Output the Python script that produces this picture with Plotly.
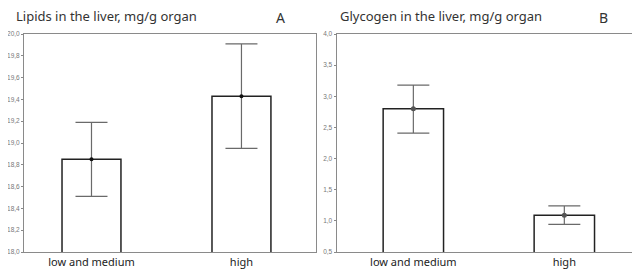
import plotly.graph_objects as go

categories = ["low and medium", "high"]
lipids_mean = [18.85, 19.43]
lipids_err_plus = [0.34, 0.48]
lipids_err_minus = [0.34, 0.48]
glycogen_mean = [2.80, 1.09]
glycogen_err_plus = [0.38, 0.15]
glycogen_err_minus = [0.39, 0.145]
lipid_ticks = [18.0, 18.2, 18.4, 18.6, 18.8, 19.0, 19.2, 19.4, 19.6, 19.8, 20.0]
glyco_ticks = [0.5, 1.0, 1.5, 2.0, 2.5, 3.0, 3.5, 4.0]

# page body has an 8px margin, so the paper is 8px smaller than the window
OFF = 8
W, H = 640 - OFF, 269 - OFF
def px_x(p): return (p - OFF) / W
def px_y(p): return 1 - (p - OFF) / H

fig = go.Figure()

def add_panel(vals, ep, em, xa, ya, mcolor, msize, bw):
    fig.add_trace(go.Bar(
        x=categories, y=vals, xaxis=xa, yaxis=ya, width=bw,
        marker=dict(color="white", line=dict(color="#222", width=1.5)),
        showlegend=False, hoverinfo="skip"))
    fig.add_trace(go.Scatter(
        x=categories, y=vals, xaxis=xa, yaxis=ya, mode="markers",
        marker=dict(color=mcolor, size=msize),
        error_y=dict(type="data", symmetric=False, array=ep, arrayminus=em,
                     color="#6a6a6a", thickness=1.2, width=16),
        showlegend=False))

add_panel(lipids_mean, lipids_err_plus, lipids_err_minus, "x", "y", "#111", 4, 0.393)
add_panel(glycogen_mean, glycogen_err_plus, glycogen_err_minus, "x2", "y2", "#555", 5, 0.40)

tickfont = dict(family="Liberation Sans", size=6.5, color="#777")
catfont = dict(family="Noto Sans", size=11, color="#222")
frame = dict(showline=True, linecolor="#8a8a8a", linewidth=1, mirror=True,
             showgrid=False, zeroline=False)

def fmt(v):
    return f"{v:.1f}".replace(".", ",")

fig.update_layout(
    width=W, height=H, margin=dict(l=0, r=0, t=0, b=0),
    plot_bgcolor="white", paper_bgcolor="white",
    xaxis=dict(domain=[px_x(24), px_x(316)], anchor="y", range=[-0.45, 1.497],
               tickfont=catfont, ticks="", automargin=False, **frame),
    yaxis=dict(domain=[px_y(252), px_y(34)], anchor="x", range=[18.0, 20.0],
               tickvals=lipid_ticks, ticktext=[fmt(v) for v in lipid_ticks],
               tickfont=tickfont, ticks="outside", ticklen=2, tickcolor="#888",
               automargin=False, **frame),
    xaxis2=dict(domain=[px_x(336.5), px_x(636.5)], anchor="y2", range=[-0.509, 1.478],
                tickfont=catfont, ticks="", automargin=False, **frame),
    yaxis2=dict(domain=[px_y(252), px_y(34)], anchor="x2", range=[0.5, 4.0],
                tickvals=glyco_ticks, ticktext=[fmt(v) for v in glyco_ticks],
                tickfont=tickfont, ticks="outside", ticklen=2, tickcolor="#888",
                automargin=False, **frame),
    annotations=[
        dict(text="Lipids in the liver, mg/g organ", x=px_x(14), y=px_y(16), xref="paper", yref="paper",
             xanchor="left", yanchor="middle", showarrow=False,
             font=dict(family="Noto Sans", size=13, color="#333")),
        dict(text="A", x=px_x(280), y=px_y(17.5), xref="paper", yref="paper",
             xanchor="center", yanchor="middle", showarrow=False,
             font=dict(family="Noto Sans", size=14, color="#333")),
        dict(text="Glycogen in the liver, mg/g organ", x=px_x(338), y=px_y(16), xref="paper", yref="paper",
             xanchor="left", yanchor="middle", showarrow=False,
             font=dict(family="Noto Sans", size=13, color="#333")),
        dict(text="B", x=px_x(603), y=px_y(17.5), xref="paper", yref="paper",
             xanchor="center", yanchor="middle", showarrow=False,
             font=dict(family="Noto Sans", size=14, color="#333")),
    ],
)

fig.write_html("out.html")
